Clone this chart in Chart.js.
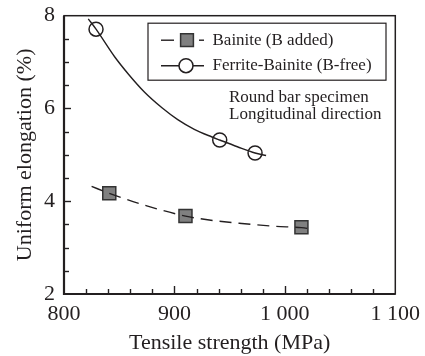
<!DOCTYPE html>
<html><head><meta charset="utf-8">
<script src="https://cdn.jsdelivr.net/npm/chart.js@4.4.1/dist/chart.umd.min.js"></script>
<style>html,body{margin:0;padding:0;background:#fff}#wrap{width:425px;height:356px}</style>
</head><body><div id="wrap"><canvas id="c" width="425" height="356"></canvas></div>
<script>
// Measured data
const bainiteTS = [841, 910, 1015];
const bainiteUE = [4.17, 3.68, 3.44];
const ferriteTS = [829, 941, 973];
const ferriteUE = [7.71, 5.32, 5.04];
// Hand-drawn trend curves
const bainiteFitTS = [825, 841, 875, 910, 930, 961, 991, 1015, 1025];
const bainiteFitUE = [4.32, 4.17, 3.90, 3.68, 3.60, 3.52, 3.46, 3.43, 3.40];
const ferriteFitTS = [822, 829, 846, 858, 873, 889, 903, 918, 934, 941, 957, 973, 983];
const ferriteFitUE = [7.93, 7.71, 7.11, 6.75, 6.35, 6.01, 5.76, 5.55, 5.385, 5.32, 5.175, 5.04, 4.985];
// Axes
const xMin = 800, xMax = 1100, xMinorStep = 20, xMajorStep = 100;
const yMin = 2, yMax = 8, yMinorStep = 0.5, yMajorStep = 2;
const xTitle = 'Tensile strength (MPa)';
const yTitle = 'Uniform elongation (%)';
const seriesNames = ['Bainite (B added)', 'Ferrite-Bainite (B-free)'];
const noteLines = ['Round bar specimen', 'Longitudinal direction'];

const INK = '#231f20';
const SERIF = '"Liberation Serif", "Times New Roman", serif';
const pts = (xs, ys) => xs.map((x, i) => ({x, y: ys[i]}));
const fmt = v => { const s = String(Math.round(v)); return s.length > 3 ? s.slice(0, -3) + ' ' + s.slice(-3) : s; };

const framePlugin = {
  id: 'frame',
  afterDraw(chart) {
    const {ctx, chartArea: a, scales: {x, y}} = chart;
    ctx.save();
    ctx.strokeStyle = INK;
    // inward tick marks
    ctx.lineWidth = 1.4;
    for (let v = xMin + xMinorStep; v < xMax; v += xMinorStep) {
      const px = Math.round(x.getPixelForValue(v)) + 0.5;
      const len = (v % xMajorStep === 0) ? 8 : 5;
      ctx.beginPath(); ctx.moveTo(px, a.bottom); ctx.lineTo(px, a.bottom - len); ctx.stroke();
    }
    for (let v = yMin + yMinorStep; v < yMax - 1e-9; v += yMinorStep) {
      const py = Math.round(y.getPixelForValue(v)) + 0.5;
      const len = (Math.abs(v % yMajorStep) < 1e-9) ? 7 : 5;
      ctx.beginPath(); ctx.moveTo(a.left, py); ctx.lineTo(a.left + len, py); ctx.stroke();
    }
    // frame
    ctx.lineWidth = 1.5;
    ctx.strokeRect(a.left, a.top, a.right - a.left, a.bottom - a.top);
    ctx.lineWidth = 2.2;
    ctx.beginPath(); ctx.moveTo(a.left, a.top); ctx.lineTo(a.left, a.bottom); ctx.lineTo(a.right, a.bottom); ctx.stroke();

    // legend box
    const lx = a.left + 84, ly = a.top + 7.5, lw = 238, lh = 57;
    ctx.lineWidth = 1.2;
    ctx.strokeRect(lx, ly, lw, lh);
    const rows = [ly + 17, ly + 42.5];
    ctx.lineWidth = 1.4;
    // row 1 : dashed line with grey square
    ctx.beginPath(); ctx.moveTo(lx + 13, rows[0]); ctx.lineTo(lx + 26, rows[0]); ctx.stroke();
    ctx.beginPath(); ctx.moveTo(lx + 51, rows[0]); ctx.lineTo(lx + 56, rows[0]); ctx.stroke();
    ctx.fillStyle = '#808080'; ctx.strokeStyle = '#333'; ctx.lineWidth = 1.5;
    ctx.beginPath(); ctx.rect(lx + 39 - 6.4, rows[0] - 6.4, 12.8, 12.8); ctx.fill(); ctx.stroke();
    // row 2 : solid line with open circle
    ctx.strokeStyle = INK; ctx.lineWidth = 1.4;
    ctx.beginPath(); ctx.moveTo(lx + 13, rows[1]); ctx.lineTo(lx + 56, rows[1]); ctx.stroke();
    ctx.fillStyle = '#fff'; ctx.lineWidth = 1.5;
    ctx.beginPath(); ctx.arc(lx + 38, rows[1], 7, 0, Math.PI * 2); ctx.fill(); ctx.stroke();
    // legend text
    ctx.fillStyle = INK; ctx.font = '17px ' + SERIF; ctx.textBaseline = 'middle'; ctx.textAlign = 'left';
    ctx.fillText(seriesNames[0], lx + 64.5, rows[0]);
    ctx.fillText(seriesNames[1], lx + 64.5, rows[1]);
    // note
    ctx.font = '17px ' + SERIF;
    ctx.fillText(noteLines[0], a.left + 165, a.top + 82);
    ctx.fillText(noteLines[1], a.left + 165, a.top + 98.6);
    ctx.restore();
  }
};

new Chart(document.getElementById('c'), {
  type: 'scatter',
  data: {
    datasets: [
      {label: 'bfit', data: pts(bainiteFitTS, bainiteFitUE), showLine: true, pointRadius: 0,
       borderColor: INK, borderWidth: 1.4, borderDash: [12, 7], cubicInterpolationMode: 'monotone', fill: false},
      {label: 'ffit', data: pts(ferriteFitTS, ferriteFitUE), showLine: true, pointRadius: 0,
       borderColor: INK, borderWidth: 1.4, cubicInterpolationMode: 'monotone', fill: false},
      {label: seriesNames[0], data: pts(bainiteTS, bainiteUE), pointStyle: 'rect', pointRadius: 9.2,
       backgroundColor: '#808080', borderColor: '#333', borderWidth: 1.5},
      {label: seriesNames[1], data: pts(ferriteTS, ferriteUE), pointStyle: 'circle', pointRadius: 7,
       backgroundColor: '#fff', borderColor: INK, borderWidth: 1.5}
    ]
  },
  options: {
    responsive: false, animation: false, devicePixelRatio: 1,
    layout: {padding: {top: 15.7, right: 29.7, left: 0, bottom: 0}},
    plugins: {legend: {display: false}, tooltip: {enabled: false}},
    scales: {
      x: {
        type: 'linear', min: xMin, max: xMax,
        afterFit(s) { s.height = 62; s.paddingLeft = 0; s.paddingRight = 0; },
        grid: {display: false, drawTicks: false}, border: {display: false},
        ticks: {stepSize: xMinorStep, autoSkip: false, maxRotation: 0, padding: 7, color: INK,
          font: {family: SERIF, size: 22},
          callback: v => (v % xMajorStep === 0 ? fmt(v) : '')},
        title: {display: true, text: xTitle, color: INK, font: {family: SERIF, size: 22}, padding: {top: 0, bottom: 0}}
      },
      y: {
        min: yMin, max: yMax,
        afterFit(s) { s.width = 64; s.paddingTop = 0; s.paddingBottom = 0; },
        grid: {display: false, drawTicks: false}, border: {display: false},
        ticks: {stepSize: yMinorStep, autoSkip: false, padding: 9, color: INK,
          font: {family: SERIF, size: 22},
          callback: v => (Math.abs(v % yMajorStep) < 1e-9 ? String(v) : '')},
        title: {display: true, text: yTitle, color: INK, font: {family: SERIF, size: 22}, padding: {top: 12, bottom: 0}}
      }
    }
  },
  plugins: [framePlugin]
});
</script></body></html>
